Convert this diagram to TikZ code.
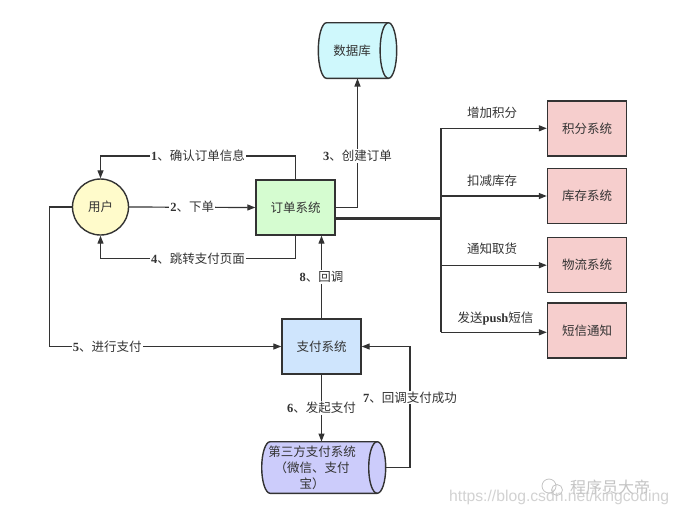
\documentclass[tikz,border=0pt]{standalone}
\usepackage{fontspec}
\setmainfont{Liberation Serif}
\newfontfamily\cjk{Noto Sans CJK SC}
\newfontfamily\latinf{Liberation Serif}
\newfontfamily\wmsans{Liberation Sans}
\usetikzlibrary{arrows.meta,calc}
\newcommand\mydig[1]{{\latinf\bfseries #1}}
\definecolor{lc}{HTML}{333333}
\definecolor{tc}{HTML}{333333}
\definecolor{dbcol}{HTML}{CFF8FC}
\definecolor{usercol}{HTML}{FFFBCB}
\definecolor{ordercol}{HTML}{D5FCD0}
\definecolor{sidecol}{HTML}{F6CECD}
\definecolor{paycol}{HTML}{CFE5FD}
\definecolor{tpcol}{HTML}{CCCCFB}
\definecolor{wm}{HTML}{D2D2D2}
\definecolor{wmdark}{HTML}{C4C4C4}
\tikzset{
  txt/.style={font=\cjk\fontsize{12.5}{16}\selectfont, text=tc},
  boxnode/.style={txt, draw=lc, line width=1.4pt, minimum width=79pt, minimum height=55pt, inner sep=0pt},
  arr/.style={draw=lc, line width=1.2pt, -{Triangle[length=8pt,width=6pt]}},
  plain/.style={draw=lc, line width=1.2pt},
  lbl/.style={txt, fill=white, inner sep=1pt},
  freelbl/.style={txt, inner sep=0pt},
  cylshape/.style={draw=lc, line width=1.4pt},
}
\begin{document}
\begin{tikzpicture}[x=1pt,y=-1pt]
\useasboundingbox[fill=white] (0,0) rectangle (679,515);

% nodes
\node[txt, circle, draw=lc, line width=1.4pt, fill=usercol, minimum size=56pt, inner sep=0pt] (user) at (100.5,207) {用户};
\node[boxnode, fill=ordercol] (order) at (295.5,207.5) {订单系统};
\node[boxnode, fill=paycol] (pay) at (321.5,346.5) {支付系统};
\node[boxnode, fill=sidecol] (p1) at (587,128.3) {积分系统};
\node[boxnode, fill=sidecol] (p2) at (587,196) {库存系统};
\node[boxnode, fill=sidecol] (p3) at (587,265.2) {物流系统};
\node[boxnode, fill=sidecol] (p4) at (587,330.5) {短信通知};

% database cylinder
\draw[cylshape, fill=dbcol] (388.4,22.7) -- (326.6,22.7)
  arc[start angle=90,end angle=270,x radius=8.3pt,y radius=27.8pt] -- (388.4,78.3)
  arc[start angle=-90,end angle=90,x radius=8.3pt,y radius=27.8pt] -- cycle;
\draw[cylshape] (388.4,22.7) arc[start angle=90,end angle=270,x radius=8.3pt,y radius=27.8pt];
\node[minimum width=78.4pt, minimum height=55.6pt, inner sep=0pt] (db) at (357.5,50.5) {};
\node[freelbl] (dbtext) at (352,50.5) {数据库};

% third party cylinder
\draw[cylshape, fill=tpcol] (377.2,441.7) -- (270.2,441.7)
  arc[start angle=90,end angle=270,x radius=8.5pt,y radius=25.8pt] -- (377.2,493.3)
  arc[start angle=-90,end angle=90,x radius=8.5pt,y radius=25.8pt] -- cycle;
\draw[cylshape] (377.2,441.7) arc[start angle=90,end angle=270,x radius=8.5pt,y radius=25.8pt];
\node[minimum width=124pt, minimum height=51.6pt, inner sep=0pt] (tp) at (323.7,467.5) {};
\node[freelbl, align=center] (tptext) at (312,468) {第三方支付系统\\（微信、支付\\宝）};

% helper coordinates
\coordinate (c1) at (100.5,156);
\coordinate (c4) at (100.5,258.3);
\coordinate (c5a) at (49.3,207);
\coordinate (c5b) at (49.3,346.5);
\coordinate (c7a) at (410,467.5);
\coordinate (c7b) at (410,346.5);
\coordinate (bus) at (441,218.3);
\coordinate (b1) at (441,128.3);
\coordinate (b2) at (441,196);
\coordinate (b3) at (441,265.2);
\coordinate (b4) at (441,332.3);

% connectors
\draw[arr] (order.north) |- node[lbl,pos=0.75]{\mydig{1}、确认订单信息} (c1) -- (user.north);
\draw[arr] (user.east) -- node[lbl,pos=0.5]{\mydig{2}、下单} (order.west);
\draw[arr] (order.south) |- node[lbl,pos=0.75]{\mydig{4}、跳转支付页面} (c4) -- (user.south);
\draw[arr] (order.east) -| node[lbl,pos=0.7]{\mydig{3}、创建订单} (db.south);
\draw[arr] (user.west) -- (c5a) -- (c5b) -- node[lbl,pos=0.25]{\mydig{5}、进行支付} (pay.west);
\draw[arr] (pay.south) -- node[lbl,pos=0.5]{\mydig{6}、发起支付} (pay.south |- tp.north);
\draw[arr] (tp.east) -- (c7a) -- node[lbl,pos=0.58]{\mydig{7}、回调支付成功} (c7b) -- (pay.east);
\draw[arr] (pay.north) -- node[lbl,pos=0.5]{\mydig{8}、回调} (pay.north |- order.south);

% bus
\draw[draw=lc, line width=3pt] (order.east |- bus) -- (bus);
\draw[plain] (b1) -- (b4);
\draw[arr] (b1) -- (p1.west);
\draw[arr] (b2) -- (p2.west);
\draw[arr] (b3) -- (p3.west);
\draw[arr] (b4) -- (b4 -| p4.west);
\node[freelbl] (l1) at (492,112.3) {增加积分};
\node[freelbl] (l2) at (492,180.7) {扣减库存};
\node[freelbl] (l3) at (492,249) {通知取货};
\node[freelbl] (l4) at (495.5,318.3) {发送{\latinf\bfseries push}短信};

% watermark
\node[font=\wmsans\fontsize{15.7}{17}\selectfont, text=wm, inner sep=0pt, anchor=west] (wm2) at (449,497.5) {https://blog.csdn.net/kingcoding};
\node[font=\cjk\fontsize{16}{18}\selectfont, text=wmdark, inner sep=0pt] (wm1) at (610,487.5) {程序员大帝};
\draw[wmdark, line width=0.8pt] (549,486) circle[radius=7pt];
\draw[wmdark, line width=0.8pt] (557,490) circle[radius=5.5pt];
\end{tikzpicture}
\end{document}
